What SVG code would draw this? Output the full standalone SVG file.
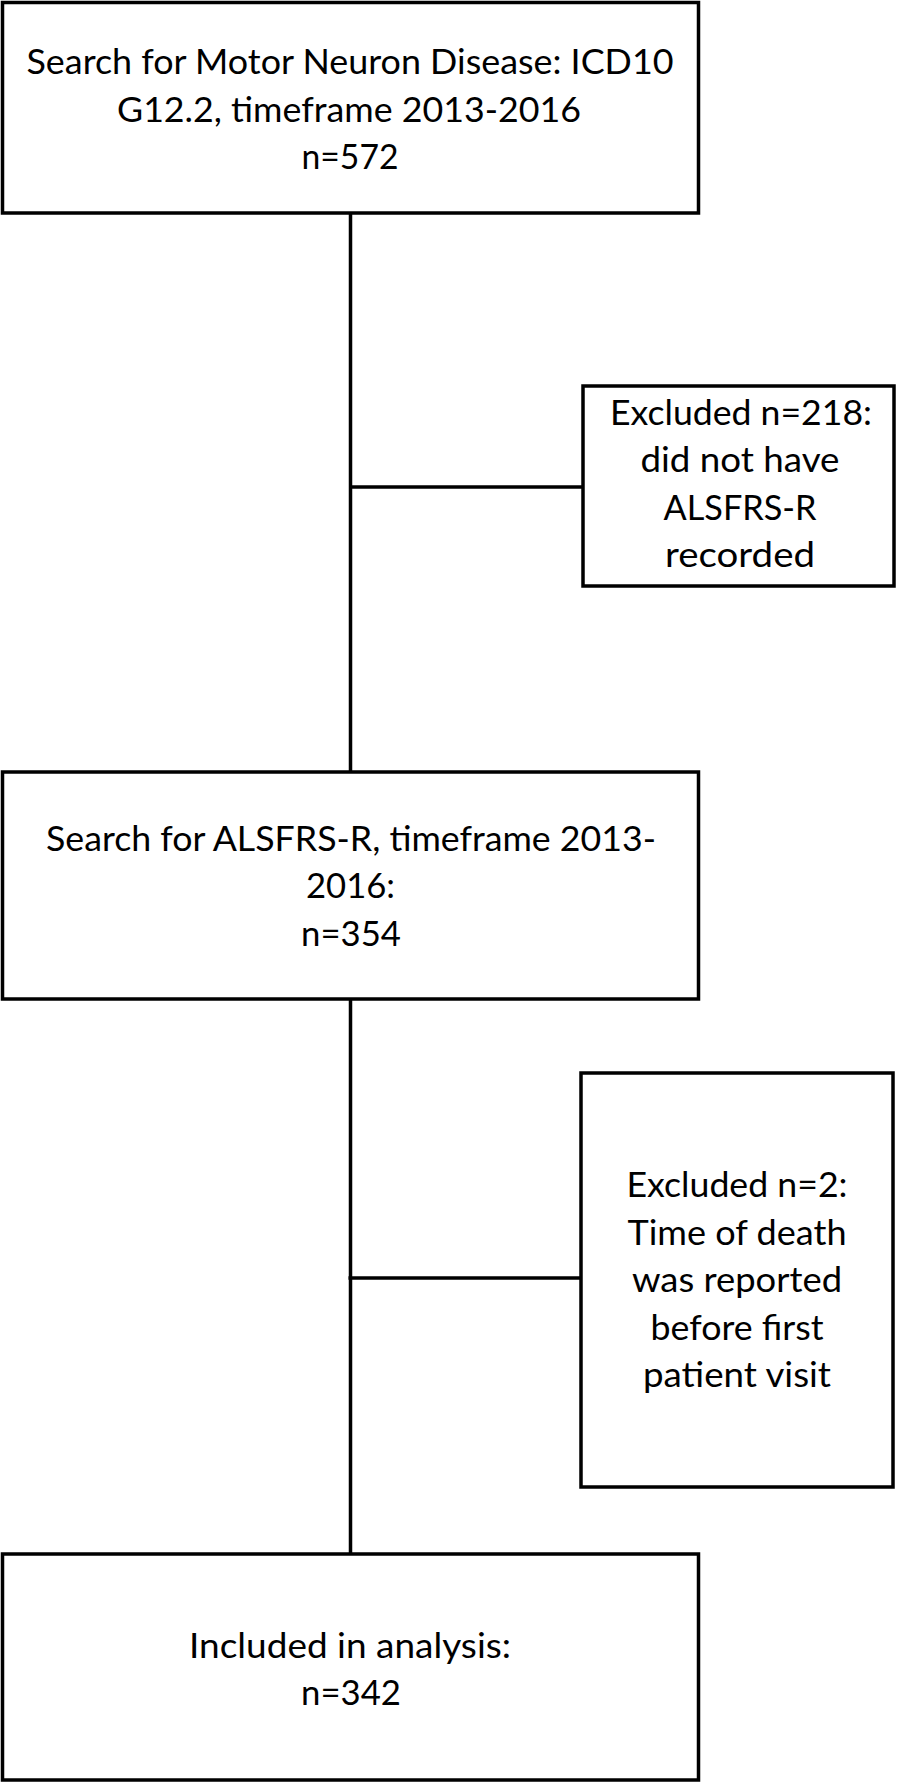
<svg xmlns="http://www.w3.org/2000/svg" width="898" height="1784" viewBox="0 0 898 1784">
<style>
.box{fill:#fff;stroke:#000;stroke-width:3.5}
.ln{stroke:#000;stroke-width:3.5;fill:none}
text{font-family:"Lato","Liberation Sans",sans-serif;font-size:34px;fill:#000;text-anchor:middle}
</style>
<rect width="898" height="1784" fill="#fff"/>
<g id="connectors">
<line class="ln" x1="350.5" y1="213" x2="350.5" y2="772"/>
<line class="ln" x1="350.5" y1="487" x2="583" y2="487"/>
<line class="ln" x1="350.5" y1="999" x2="350.5" y2="1554"/>
<line class="ln" x1="348.5" y1="1278" x2="581" y2="1278"/>
</g>
<g id="node1">
<rect class="box" x="2.5" y="2.5" width="696" height="210.5"/>
<text x="350" y="74" textLength="647" lengthAdjust="spacingAndGlyphs">Search for Motor Neuron Disease: ICD10</text>
<text x="349" y="121.5" textLength="464" lengthAdjust="spacingAndGlyphs">G12.2, timeframe 2013-2016</text>
<text x="350" y="169" textLength="97" lengthAdjust="spacingAndGlyphs">n=572</text>
</g>
<g id="excluded1">
<rect class="box" x="583" y="386" width="311" height="200"/>
<text x="741" y="425" textLength="262" lengthAdjust="spacingAndGlyphs">Excluded n=218:</text>
<text x="740" y="472" textLength="199" lengthAdjust="spacingAndGlyphs">did not have</text>
<text x="740" y="519.5" textLength="153" lengthAdjust="spacingAndGlyphs">ALSFRS-R</text>
<text x="740" y="567" textLength="150" lengthAdjust="spacingAndGlyphs">recorded</text>
</g>
<g id="node2">
<rect class="box" x="2.5" y="772" width="696" height="227"/>
<text x="351" y="851" textLength="610" lengthAdjust="spacingAndGlyphs">Search for ALSFRS-R, timeframe 2013-</text>
<text x="350.5" y="898" textLength="89" lengthAdjust="spacingAndGlyphs">2016:</text>
<text x="351" y="945.5" textLength="100" lengthAdjust="spacingAndGlyphs">n=354</text>
</g>
<g id="excluded2">
<rect class="box" x="581" y="1073" width="312" height="414"/>
<text x="737" y="1197" textLength="221" lengthAdjust="spacingAndGlyphs">Excluded n=2:</text>
<text x="737" y="1244.5" textLength="219" lengthAdjust="spacingAndGlyphs">Time of death</text>
<text x="737" y="1292" textLength="210" lengthAdjust="spacingAndGlyphs">was reported</text>
<text x="737" y="1339.5" textLength="173" lengthAdjust="spacingAndGlyphs">before first</text>
<text x="737" y="1387" textLength="188" lengthAdjust="spacingAndGlyphs">patient visit</text>
</g>
<g id="node3">
<rect class="box" x="2.5" y="1554" width="696" height="226"/>
<text x="350" y="1658" textLength="322" lengthAdjust="spacingAndGlyphs">Included in analysis:</text>
<text x="351" y="1705" textLength="100" lengthAdjust="spacingAndGlyphs">n=342</text>
</g>
</svg>
